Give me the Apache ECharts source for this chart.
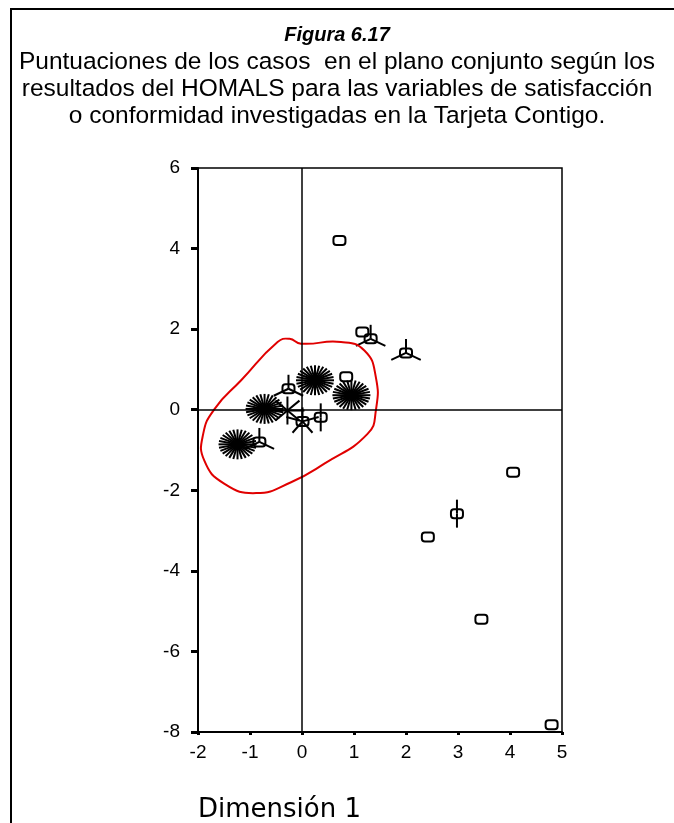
<!DOCTYPE html>
<html>
<head>
<meta charset="utf-8">
<script src="https://cdn.jsdelivr.net/npm/echarts@6/dist/echarts.min.js"></script>
<style>
  html, body { margin: 0; padding: 0; background: #fff; }
  #chart { width: 674px; height: 823px; }
</style>
</head>
<body>
<div id="chart"></div>
<script>
// puntuaciones de los casos (dimension 1, dimension 2) y numero de petalos (casos)
var dim1 = [0.72, 1.16, 1.32, 2.00, 0.85, 0.25, 0.95, -0.26, -0.72, -0.28, 0.01, 0.36, -1.24, -0.82, 4.06, 2.98, 2.42, 3.45, 4.80];
var dim2 = [4.20, 1.93, 1.76, 1.41, 0.82, 0.73, 0.36, 0.52, 0.02, -0.02, -0.29, -0.19, -0.86, -0.80, -1.55, -2.58, -3.16, -5.20, -7.82];
var petals = [1, 1, 3, 3, 1, 28, 28, 3, 28, 8, 5, 2, 28, 3, 1, 2, 1, 1, 1];

// contorno rojo dibujado a mano
var redX = [-0.24, -0.02, 0.75, 1.20, 1.42, 1.42, 1.26, 0.43, -0.21, -0.88, -1.49, -1.88, -1.90, -1.68, -1.17, -0.47];
var redY = [1.76, 1.64, 1.68, 1.47, 0.81, -0.02, -0.60, -1.34, -1.80, -2.07, -1.84, -1.26, -0.60, 0.02, 0.73, 1.68];

var xTicks = { min: -2, max: 5, interval: 1 };
var yTicks = { min: -8, max: 6, interval: 2 };

var titleText = 'Figura 6.17';
var subLines = [
  'Puntuaciones de los casos  en el plano conjunto según los',
  'resultados del HOMALS para las variables de satisfacción',
  'o conformidad investigadas en la Tarjeta Contigo.'
];
var xName = 'Dimensión 1';

var pts = dim1.map(function (x, i) { return [x, dim2[i], petals[i]]; });
var outline = redX.map(function (x, i) { return [x, redY[i]]; });

var font = "'Liberation Sans', Arial, sans-serif";

function drawPoint(params, api) {
  var c = api.coord([api.value(0), api.value(1)]);
  var n = api.value(2);
  var kids = [];
  var rx = n > 10 ? 19 : 17, ry = n > 10 ? 15 : 14;
  if (n < 8) {
    kids.push({
      type: 'rect',
      shape: { x: c[0] - 6, y: c[1] - 4.5, width: 12, height: 9, r: 3 },
      style: { fill: 'none', stroke: '#000', lineWidth: 2 }
    });
  }
  if (n > 1) {
    for (var k = 0; k < n; k++) {
      var a = Math.PI / 2 + 2 * Math.PI * k / n;
      kids.push({
        type: 'line',
        shape: { x1: c[0], y1: c[1], x2: c[0] + rx * Math.cos(a), y2: c[1] - ry * Math.sin(a) },
        style: { stroke: '#000', lineWidth: 2 }
      });
    }
  }
  return { type: 'group', children: kids };
}

function drawOutline(params, api) {
  var p = outline.map(function (d) { return api.coord(d); });
  return {
    type: 'polygon',
    shape: { points: p, smooth: 0.5 },
    style: { fill: 'none', stroke: '#e00000', lineWidth: 2 }
  };
}

var chart = echarts.init(document.getElementById('chart'));
chart.setOption({
  animation: false,
  backgroundColor: '#fff',
  grid: {
    left: 198, right: 112, top: 168, bottom: 91,
    show: true, borderColor: '#000', borderWidth: 1.5
  },
  xAxis: {
    type: 'value',
    min: xTicks.min, max: xTicks.max, interval: xTicks.interval,
    axisLine: { onZero: false, lineStyle: { color: '#000', width: 2 } },
    axisTick: { show: true, length: 3, lineStyle: { color: '#000', width: 3 } },
    axisLabel: { color: '#000', fontSize: 19, fontFamily: font, margin: 11 },
    splitLine: { show: false }
  },
  yAxis: {
    type: 'value',
    min: yTicks.min, max: yTicks.max, interval: yTicks.interval,
    axisLine: { onZero: false, lineStyle: { color: '#000', width: 2 } },
    axisTick: { show: true, length: 7, lineStyle: { color: '#000', width: 3 } },
    axisLabel: { color: '#000', fontSize: 19, fontFamily: font, margin: 18 },
    splitLine: { show: false }
  },
  graphic: [
    { type: 'rect', shape: { x: 11, y: 9, width: 700, height: 900 }, style: { fill: 'none', stroke: '#000', lineWidth: 2 }, z: 100 },
    { type: 'text', x: 337, y: 35, style: { text: titleText, fill: '#000', font: 'italic bold 20px ' + font, textAlign: 'center', textVerticalAlign: 'middle' } },
    { type: 'text', x: 337, y: 62, style: { text: subLines[0], fill: '#000', font: '24.5px ' + font, textAlign: 'center', textVerticalAlign: 'middle' } },
    { type: 'text', x: 337, y: 89, style: { text: subLines[1], fill: '#000', font: '24.5px ' + font, textAlign: 'center', textVerticalAlign: 'middle' } },
    { type: 'text', x: 337, y: 116, style: { text: subLines[2], fill: '#000', font: '24.5px ' + font, textAlign: 'center', textVerticalAlign: 'middle' } },
    { type: 'text', x: 198, y: 810, style: { text: xName, fill: '#000', font: "26px 'DejaVu Sans', sans-serif", textAlign: 'left', textVerticalAlign: 'middle' } }
  ],
  series: [
    {
      type: 'custom',
      renderItem: drawPoint,
      data: pts,
      z: 3,
      markLine: {
        silent: true,
        symbol: 'none',
        label: { show: false },
        lineStyle: { color: '#000', width: 1.5, type: 'solid' },
        data: [{ xAxis: 0 }, { yAxis: 0 }]
      }
    },
    {
      type: 'custom',
      renderItem: drawOutline,
      data: [[0, 0]],
      z: 4
    }
  ]
});
</script>
</body>
</html>
